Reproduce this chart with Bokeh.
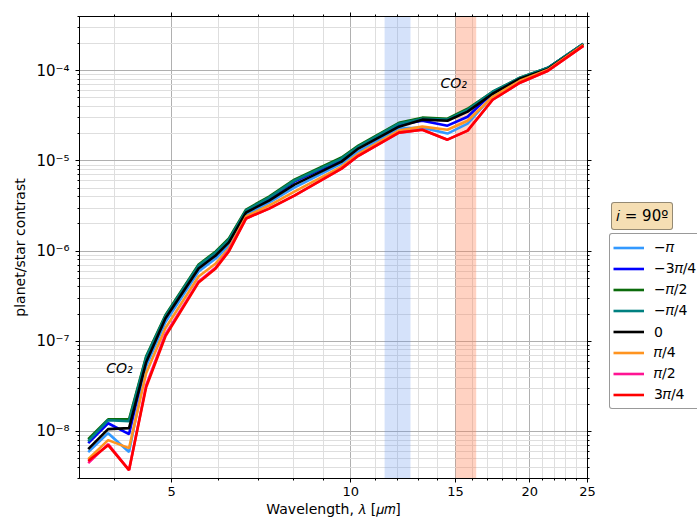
from bokeh.plotting import figure
from bokeh.layouts import row
from bokeh.models import (FixedTicker, LogAxis, Legend, LegendItem, BoxAnnotation,
                          Label, CustomJSTickFormatter)
from bokeh.embed import file_html
from bokeh.resources import INLINE

# Wavelength grid of the binned spectrum (micron)
wavelength = [3.62, 3.91, 4.24, 4.53, 4.88, 5.55, 5.93, 6.24, 6.67, 7.29, 8.04,
              9.65, 10.3, 12.05, 13.19, 14.54, 15.72, 17.32, 19.25, 21.46, 24.6]

# Planet/star contrast for each orbital phase (inclination 90 deg)
contrast_m_pi = [5.89e-9, 9.55e-9, 5.89e-9, 5.27e-8, 1.62e-7, 5.94e-7, 8.28e-7, 1.15e-6,
                 2.54e-6, 3.45e-6, 5.06e-6, 9.34e-6, 1.27e-5, 2.28e-5, 2.34e-5, 2.01e-5,
                 2.59e-5, 5.29e-5, 7.95e-5, 1.05e-4, 1.94e-4]
contrast_m_3pi4 = [7.40e-9, 1.23e-8, 9.31e-9, 6.30e-8, 1.84e-7, 6.75e-7, 9.40e-7, 1.31e-6,
                   2.74e-6, 3.82e-6, 5.90e-6, 1.03e-5, 1.40e-5, 2.52e-5, 2.79e-5, 2.46e-5,
                   3.09e-5, 5.71e-5, 8.16e-5, 1.08e-4, 1.99e-4]
contrast_m_pi2 = [8.19e-9, 1.36e-8, 1.36e-8, 6.81e-8, 1.94e-7, 7.10e-7, 9.90e-7, 1.38e-6,
                  2.89e-6, 4.02e-6, 6.21e-6, 1.09e-5, 1.48e-5, 2.65e-5, 3.02e-5, 2.94e-5,
                  3.79e-5, 5.85e-5, 8.37e-5, 1.08e-4, 1.99e-4]
contrast_m_pi4 = [7.79e-9, 1.33e-8, 1.30e-8, 6.63e-8, 1.89e-7, 6.93e-7, 9.65e-7, 1.34e-6,
                  2.82e-6, 3.92e-6, 6.05e-6, 1.06e-5, 1.44e-5, 2.59e-5, 2.94e-5, 2.87e-5,
                  3.70e-5, 5.85e-5, 8.37e-5, 1.08e-4, 1.99e-4]
contrast_0 = [6.35e-9, 1.06e-8, 1.085e-8, 5.84e-8, 1.79e-7, 6.42e-7, 8.94e-7, 1.25e-6,
              2.68e-6, 3.63e-6, 5.46e-6, 9.82e-6, 1.37e-5, 2.40e-5, 2.87e-5, 2.79e-5,
              3.52e-5, 5.56e-5, 8.16e-5, 1.05e-4, 1.94e-4]
contrast_p_pi4 = [4.92e-9, 7.99e-9, 6.52e-9, 4.41e-8, 1.39e-7, 5.23e-7, 7.29e-7, 1.07e-6,
                  2.42e-6, 3.20e-6, 4.57e-6, 8.65e-6, 1.20e-5, 2.17e-5, 2.40e-5, 2.22e-5,
                  2.79e-5, 5.15e-5, 7.75e-5, 1.026e-4, 1.94e-4]
contrast_p_pi2 = [4.44e-9, 7.22e-9, 3.72e-9, 3.25e-8, 1.19e-7, 4.61e-7, 6.58e-7, 1.02e-6,
                  2.30e-6, 2.96e-6, 4.13e-6, 8.22e-6, 1.14e-5, 2.06e-5, 2.22e-5, 1.72e-5,
                  2.17e-5, 4.77e-5, 7.37e-5, 1.00e-4, 1.89e-4]
contrast_p_3pi4 = [4.68e-9, 7.03e-9, 3.72e-9, 3.09e-8, 1.13e-7, 4.49e-7, 6.42e-7, 9.90e-7,
                   2.30e-6, 2.96e-6, 4.13e-6, 8.22e-6, 1.14e-5, 2.06e-5, 2.22e-5, 1.72e-5,
                   2.17e-5, 4.77e-5, 7.37e-5, 1.00e-4, 1.89e-4]

phase_series = [contrast_m_pi, contrast_m_3pi4, contrast_m_pi2, contrast_m_pi4,
                contrast_0, contrast_p_pi4, contrast_p_pi2, contrast_p_3pi4]
phase_labels = ["\u2212\U0001D70B", "\u22123\U0001D70B/4", "\u2212\U0001D70B/2",
                "\u2212\U0001D70B/4", "0", "\U0001D70B/4", "\U0001D70B/2", "3\U0001D70B/4"]
phase_colors = ["#3399ff", "#0000ff", "#0b6b0b", "#008080", "#000000",
                "#ff9420", "#ff1493", "#ff0000"]
inclination_text = "\U0001D456 = 90\u00ba"

# Shaded spectral bands (micron)
window_band = [11.4, 12.6]
co2_band = [15.0, 16.25]

# Axis ticks
x_major = [5, 10, 15, 20, 25]
x_labels = ["5", "10", "15", "20", "25"]
x_minor = [4, 6, 7, 8, 9, 11, 12, 13, 14, 16, 17, 18, 19, 21, 22, 23, 24]
y_major = [1e-8, 1e-7, 1e-6, 1e-5, 1e-4]
y_labels = ["10\u207b\u2078", "10\u207b\u2077", "10\u207b\u2076", "10\u207b\u2075", "10\u207b\u2074"]
y_minor = [m * 10.0 ** e for e in range(-9, -3) for m in range(2, 10)
           if 3e-9 <= m * 10.0 ** e <= 4e-4]

FONT = "DejaVu Sans"
LINE_WIDTH = 2.6

# ---------------- main spectrum panel ----------------
p = figure(width=609, height=520, x_axis_type="log", y_axis_type="log",
           x_range=(3.5, 25), y_range=(3e-9, 4e-4),
           output_backend="svg", toolbar_location=None,
           min_border_left=79, min_border_right=22, min_border_top=16,
           min_border_bottom=42)
p.background_fill_color = "white"
p.border_fill_color = "white"
p.outline_line_color = "black"
p.outline_line_width = 1

label_code = """
const lt = Math.log10(tick);
for (let i = 0; i < tick_values.length; i++) {
  if (Math.abs(Math.log10(tick_values[i]) - lt) < 1e-6) return tick_texts[i];
}
return "";
"""
x_ticker = FixedTicker(ticks=x_major, minor_ticks=x_minor)
y_ticker = FixedTicker(ticks=y_major, minor_ticks=y_minor)

p.xaxis.ticker = x_ticker
p.yaxis.ticker = y_ticker
p.xaxis.formatter = CustomJSTickFormatter(args=dict(tick_values=x_major, tick_texts=x_labels),
                                          code=label_code)
p.yaxis.formatter = CustomJSTickFormatter(args=dict(tick_values=y_major, tick_texts=y_labels),
                                          code=label_code)

for ax in (p.xaxis[0], p.yaxis[0]):
    ax.axis_line_color = "black"
    ax.major_tick_line_color = "black"
    ax.minor_tick_line_color = "black"
    ax.major_tick_out = 4
    ax.major_tick_in = 0
    ax.minor_tick_out = 2
    ax.minor_tick_in = 0
    ax.major_label_text_font = FONT
    ax.major_label_text_color = "black"
    ax.axis_label_text_font = FONT
    ax.axis_label_text_font_style = "normal"
    ax.axis_label_text_font_size = "14px"
    ax.axis_label_text_color = "black"

p.xaxis.major_label_text_font_size = "13px"
p.xaxis.major_label_standoff = 4
p.xaxis.axis_label = "Wavelength, \U0001D706 [\U0001D707\U0001D45A]"
p.xaxis.axis_label_standoff = 2
p.yaxis.major_label_text_font_size = "15px"
p.yaxis.major_label_standoff = 6
p.yaxis.axis_label = "planet/star contrast"
p.yaxis.axis_label_standoff = 5

# Unlabelled mirror axes on the top and right edges
blank = CustomJSTickFormatter(code="return '';")
for where, tk in (("above", x_ticker), ("right", y_ticker)):
    ax = LogAxis(ticker=tk, formatter=blank, major_label_text_font_size="1px",
                 major_label_standoff=0,
                 axis_line_color="black", major_tick_line_color="black",
                 minor_tick_line_color="black", major_tick_out=4, major_tick_in=0,
                 minor_tick_out=2, minor_tick_in=0)
    p.add_layout(ax, where)

for g in (p.xgrid[0], p.ygrid[0]):
    g.grid_line_color = "#b0b0b0"
    g.grid_line_width = 1
    g.minor_grid_line_color = "#dedede"
    g.minor_grid_line_width = 1

p.add_layout(BoxAnnotation(left=window_band[0], right=window_band[1],
                           fill_color="cornflowerblue", fill_alpha=0.27,
                           line_color=None, level="underlay"))
p.add_layout(BoxAnnotation(left=co2_band[0], right=co2_band[1],
                           fill_color="coral", fill_alpha=0.35,
                           line_color=None, level="underlay"))

for series, col in zip(phase_series, phase_colors):
    p.line(wavelength, series, line_color=col, line_width=LINE_WIDTH)

p.add_layout(Label(x=3.88, y=5.0e-8, text="CO\u2082", text_font=FONT,
                   text_font_style="italic", text_font_size="14px",
                   text_color="black", text_baseline="alphabetic"))
p.add_layout(Label(x=14.15, y=7.36e-5, text="CO\u2082", text_font=FONT,
                   text_font_style="italic", text_font_size="14px",
                   text_color="black", text_baseline="alphabetic"))

# ---------------- legend strip on the right ----------------
side = figure(width=88, height=520, x_range=(0, 88), y_range=(0, 520),
              output_backend="svg", toolbar_location=None,
              x_axis_location=None, y_axis_location=None,
              min_border=0, min_border_left=0, min_border_right=0,
              min_border_top=0, min_border_bottom=0)
side.grid.visible = False
side.outline_line_color = None
side.background_fill_color = "white"
side.border_fill_color = "white"

items = []
for series, lab, col in zip(phase_series, phase_labels, phase_colors):
    r = side.line(wavelength, series, line_color=col, line_width=LINE_WIDTH, visible=False)
    items.append(LegendItem(label=lab, renderers=[r]))

has_radius = "border_radius" in Legend.properties()

legend_opts = dict(items=items, location=(0, 69), orientation="vertical",
                   label_text_font=FONT, label_text_font_size="14px",
                   label_text_color="black", glyph_width=31, glyph_height=21,
                   label_height=21, spacing=0, padding=3, margin=0,
                   label_standoff=10, border_line_color="#333333",
                   border_line_width=1, background_fill_color="white",
                   background_fill_alpha=1)
if has_radius:
    legend_opts["border_radius"] = 3
side.add_layout(Legend(**legend_opts))

# Inclination tag: a text-only legend box in wheat
tag_opts = dict(items=[LegendItem(label=inclination_text, renderers=items[4].renderers)],
                location=(2, 248), label_text_font=FONT, label_text_font_size="15px",
                label_text_color="black", glyph_width=0, glyph_height=15,
                label_height=15, label_standoff=0, padding=4, margin=0,
                border_line_color="#333333", border_line_width=1,
                background_fill_color="#f5deb3", background_fill_alpha=1)
if has_radius:
    tag_opts["border_radius"] = 3
side.add_layout(Legend(**tag_opts))

layout = row(p, side, spacing=0)
open("out.html", "w").write(file_html(layout, INLINE))
